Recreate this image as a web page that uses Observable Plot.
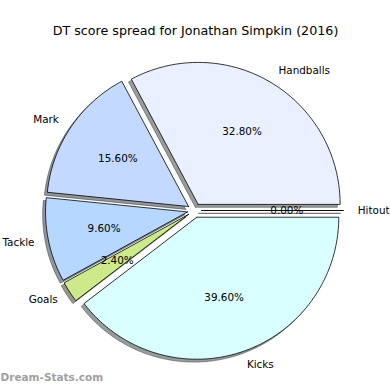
<!DOCTYPE html>
<html><head><meta charset="utf-8">
<script src="https://cdn.jsdelivr.net/npm/d3@7"></script>
<script src="https://cdn.jsdelivr.net/npm/@observablehq/plot@0.6"></script>
<style>html,body{margin:0;padding:0;background:#fff}svg{display:block}</style>
</head><body><div id="chart"></div>
<script>
const title = "DT score spread for Jonathan Simpkin (2016)";
const categories = ["Handballs", "Mark", "Tackle", "Goals", "Kicks", "Hitout"];
const percents = [32.8, 15.6, 9.6, 2.4, 39.6, 0.0];
const colors = ["#eaf0ff", "#c4d9ff", "#b6d7ff", "#cdea8a", "#d9ffff", "#ffe4c4"];
const explode = [0.05, 0.05, 0.05, 0.05, 0.05, 0.05];
const watermark = "Dream-Stats.com";

// layout (pixel frame of the pie)
const W = 390, H = 390, R = 142, CX = 194, CY = 210;
const labelDistance = 1.1, pctDistance = 0.6, shadowOffset = 0.02;

const total = d3.sum(percents);
const slices = [];
let acc = 0;
categories.forEach((name, i) => {
  const a0 = acc / total * 2 * Math.PI;
  acc += percents[i];
  const a1 = acc / total * 2 * Math.PI;
  const mid = (a0 + a1) / 2;
  const ox = explode[i] * Math.cos(mid), oy = explode[i] * Math.sin(mid);
  slices.push({name, i, a0, a1, mid, ox, oy, pct: percents[i], color: colors[i]});
});

function polygon(s, dx, dy) {
  const pts = [{slice: s.name, x: s.ox + dx, y: s.oy + dy}];
  const n = Math.max(2, Math.ceil((s.a1 - s.a0) / (Math.PI / 180)));
  for (let k = 0; k <= n; k++) {
    const a = s.a0 + (s.a1 - s.a0) * k / n;
    pts.push({slice: s.name, x: s.ox + dx + Math.cos(a), y: s.oy + dy + Math.sin(a)});
  }
  pts.push({slice: s.name, x: s.ox + dx, y: s.oy + dy});
  return pts;
}

const wedgePts = slices.flatMap(s => polygon(s, 0, 0).map(p => ({...p, fill: s.color})));
const shadowPts = slices.flatMap(s => {
  const c = d3.rgb(s.color);
  const sc = d3.rgb(c.r * 0.3, c.g * 0.3, c.b * 0.3).formatHex();
  return polygon(s, -shadowOffset, -shadowOffset).map(p => ({...p, fill: sc}));
});

const nameLabels = slices.map(s => ({
  text: s.name,
  x: s.ox + labelDistance * Math.cos(s.mid),
  y: s.oy + labelDistance * Math.sin(s.mid)
}));
const pctLabels = slices.map(s => ({
  text: s.pct.toFixed(2) + "%",
  x: s.ox + pctDistance * Math.cos(s.mid),
  y: s.oy + pctDistance * Math.sin(s.mid)
}));

const font = "DejaVu Sans, sans-serif";
const chart = Plot.plot({
  width: W, height: H, margin: 0,
  style: {background: "#fff", fontFamily: font},
  x: {domain: [-CX / R, (W - CX) / R], axis: null},
  y: {domain: [-(H - CY) / R, CY / R], axis: null},
  color: {type: "identity"},
  marks: [
    Plot.line(shadowPts, {x: "x", y: "y", z: "slice", fill: "fill", stroke: "fill", fillOpacity: 0.55, strokeOpacity: 0.55, strokeWidth: 1}),
    Plot.line(wedgePts, {x: "x", y: "y", z: "slice", fill: "fill", stroke: "black", strokeWidth: 0.8}),
    Plot.text(pctLabels, {x: "x", y: "y", text: "text", fontSize: 10.4, fill: "black", fontFamily: font}),
    Plot.text(nameLabels.filter(d => d.x >= 0), {x: "x", y: "y", text: "text", textAnchor: "start", fontSize: 10.4, fill: "black", fontFamily: font}),
    Plot.text(nameLabels.filter(d => d.x < 0), {x: "x", y: "y", text: "text", textAnchor: "end", fontSize: 10.4, fill: "black", fontFamily: font}),
    Plot.text([title], {frameAnchor: "top", dy: 25, text: d => d, fontSize: 12.7, fill: "black", fontFamily: font}),
    Plot.text([watermark], {frameAnchor: "bottom-left", textAnchor: "start", dy: -10, dx: 0, text: d => d, fontSize: 10.5, fontWeight: "bold", fill: "#a0a0a0", fontFamily: font})
  ]
});
document.getElementById("chart").appendChild(chart);
</script>
</body></html>
